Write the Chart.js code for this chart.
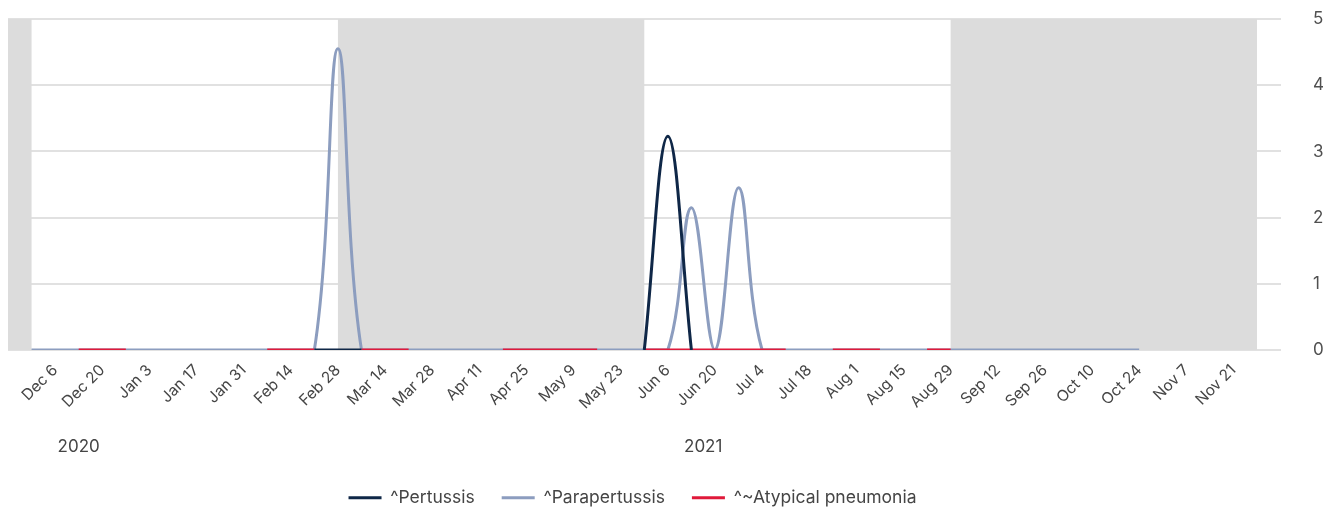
<!DOCTYPE html>
<html>
<head>
<meta charset="utf-8">
<script src="https://cdn.jsdelivr.net/npm/chart.js@4"></script>
<style>
  html, body { margin: 0; padding: 0; background: #ffffff; }
  #wrap { width: 1329px; height: 510px; position: relative; }
</style>
</head>
<body>
<div id="wrap"><canvas id="c"></canvas></div>
<script>
// ---- Data ----
const weekLabels = [
  "Nov 22","Nov 29","Dec 6","Dec 13","Dec 20","Dec 27","Jan 3","Jan 10","Jan 17","Jan 24",
  "Jan 31","Feb 7","Feb 14","Feb 21","Feb 28","Mar 7","Mar 14","Mar 21","Mar 28","Apr 4",
  "Apr 11","Apr 18","Apr 25","May 2","May 9","May 16","May 23","May 30","Jun 6","Jun 13",
  "Jun 20","Jun 27","Jul 4","Jul 11","Jul 18","Jul 25","Aug 1","Aug 8","Aug 15","Aug 22",
  "Aug 29","Sep 5","Sep 12","Sep 19","Sep 26","Oct 3","Oct 10","Oct 17","Oct 24","Oct 31",
  "Nov 7","Nov 14","Nov 21","Nov 28"
];
const shownTickLabels = [
  "Dec 6","Dec 20","Jan 3","Jan 17","Jan 31","Feb 14","Feb 28","Mar 14","Mar 28","Apr 11",
  "Apr 25","May 9","May 23","Jun 6","Jun 20","Jul 4","Jul 18","Aug 1","Aug 15","Aug 29",
  "Sep 12","Sep 26","Oct 10","Oct 24","Nov 7","Nov 21"
];
const n = null;
const pertussis = [
  n,n,n,n,n,n,n,n,n,n,
  n,n,n,0,0,0,n,n,n,n,
  n,n,n,n,n,n,n,0,3.23,0,
  n,n,n,n,n,n,n,n,n,n,
  n,n,n,n,n,n,n,n,n,n,
  n,n,n,n
];
const parapertussis = [
  n,0,0,0,0,0,0,0,0,0,
  0,0,0,0,4.55,0,0,0,0,0,
  0,0,0,0,0,0,0,0,0,2.15,
  0,2.45,0,0,0,0,0,0,0,0,
  0,0,0,0,0,0,0,0,0,n,
  n,n,n,n
];
const atypicalPneumonia = [
  n,n,n,0,0,0,n,n,n,n,
  n,0,0,0,n,0,0,0,n,n,
  n,0,0,0,0,0,n,0,0,0,
  0,0,0,0,n,0,0,0,n,0,
  0,n,n,n,n,n,n,n,n,n,
  n,n,n,n
];
const seriesNames = ["^Pertussis", "^Parapertussis", "^~Atypical pneumonia"];
const seriesColors = ["#0f2747", "#8c9dbf", "#e0193a"];
const yTicks = [0, 1, 2, 3, 4, 5];
// shaded seasons: [start label, end label]
const shadedSpans = [["Nov 22","Nov 29"], ["Feb 28","May 30"], ["Aug 29","Nov 28"]];
// year group labels: [label, first week, last week]
const yearGroups = [["2020","Nov 22","Jan 3"], ["2021","Jan 3","Nov 28"]];

// ---- Plugins ----
const bandsPlugin = {
  id: 'bands',
  beforeDatasetsDraw(chart) {
    const {ctx, chartArea, scales: {x}} = chart;
    ctx.save();
    ctx.fillStyle = '#dcdcdc';
    shadedSpans.forEach(([a, b]) => {
      const x0 = x.getPixelForValue(weekLabels.indexOf(a));
      const x1 = x.getPixelForValue(weekLabels.indexOf(b));
      ctx.fillRect(x0, chartArea.top, x1 - x0, chartArea.bottom - chartArea.top);
    });
    ctx.restore();
  }
};
const yearPlugin = {
  id: 'years',
  afterDraw(chart) {
    const {ctx, scales: {x}} = chart;
    ctx.save();
    ctx.fillStyle = '#454545';
    ctx.font = '17px Inter, "Noto Sans", sans-serif';
    ctx.textAlign = 'center';
    ctx.textBaseline = 'middle';
    yearGroups.forEach(([label, a, b]) => {
      const x0 = x.getPixelForValue(weekLabels.indexOf(a));
      const x1 = x.getPixelForValue(weekLabels.indexOf(b));
      ctx.fillText(label, (x0 + x1) / 2, x.top + 97);
    });
    ctx.restore();
  }
};

const mk = (label, data, color, order) => ({
  label, data, order,
  borderColor: color,
  backgroundColor: color,
  borderWidth: 3,
  pointRadius: 0,
  pointHoverRadius: 0,
  tension: 0.4,
  fill: false,
  spanGaps: false
});

const ds = [
  mk(seriesNames[0], pertussis, seriesColors[0], 0),
  mk(seriesNames[1], parapertussis, seriesColors[1], 2),
  mk(seriesNames[2], atypicalPneumonia, seriesColors[2], 1)
];

new Chart(document.getElementById('c'), {
  type: 'line',
  data: { labels: weekLabels, datasets: ds },
  options: {
    responsive: true,
    maintainAspectRatio: false,
    animation: false,
    layout: { padding: { left: 8, top: 19, right: 0, bottom: 0 } },
    plugins: {
      tooltip: { enabled: false },
      legend: {
        position: 'bottom',
        fullSize: false,
        maxHeight: 48,
        labels: {
          boxWidth: 33,
          boxHeight: 3,
          padding: 27,
          color: '#454545',
          font: { family: 'Inter, "Noto Sans", sans-serif', size: 17.5 },
          sort: (a, b) => a.datasetIndex - b.datasetIndex,
          generateLabels(chart) {
            return Chart.defaults.plugins.legend.labels.generateLabels(chart).map(l =>
              Object.assign(l, { lineWidth: 0, fillStyle: l.strokeStyle }));
          }
        }
      }
    },
    scales: {
      x: {
        type: 'category',
        offset: false,
        grid: { display: false, drawTicks: true, tickLength: 8 },
        border: { display: false },
        afterFit(scale) { scale.height = 112; },
        ticks: {
          autoSkip: false,
          minRotation: 45,
          maxRotation: 45,
          padding: 3,
          color: '#454545',
          font: { family: 'Inter, "Noto Sans", sans-serif', size: 15.5 },
          callback(value) {
            const lbl = weekLabels[value];
            return shownTickLabels.includes(lbl) ? lbl : null;
          }
        }
      },
      y: {
        position: 'right',
        min: 0,
        max: 5,
        afterBuildTicks(scale) { scale.ticks = yTicks.map(v => ({ value: v })); },
        afterFit(scale) {
          scale.width = 72;
          scale.paddingTop = 10;
          scale.paddingBottom = 10;
        },
        grid: { color: '#e1e1e1', lineWidth: 2, tickLength: 24, drawTicks: true },
        border: { display: false },
        ticks: {
          padding: 32,
          color: '#505050',
          font: { family: 'Inter, "Noto Sans", sans-serif', size: 17 }
        }
      }
    }
  },
  plugins: [bandsPlugin, yearPlugin]
});
</script>
</body>
</html>
